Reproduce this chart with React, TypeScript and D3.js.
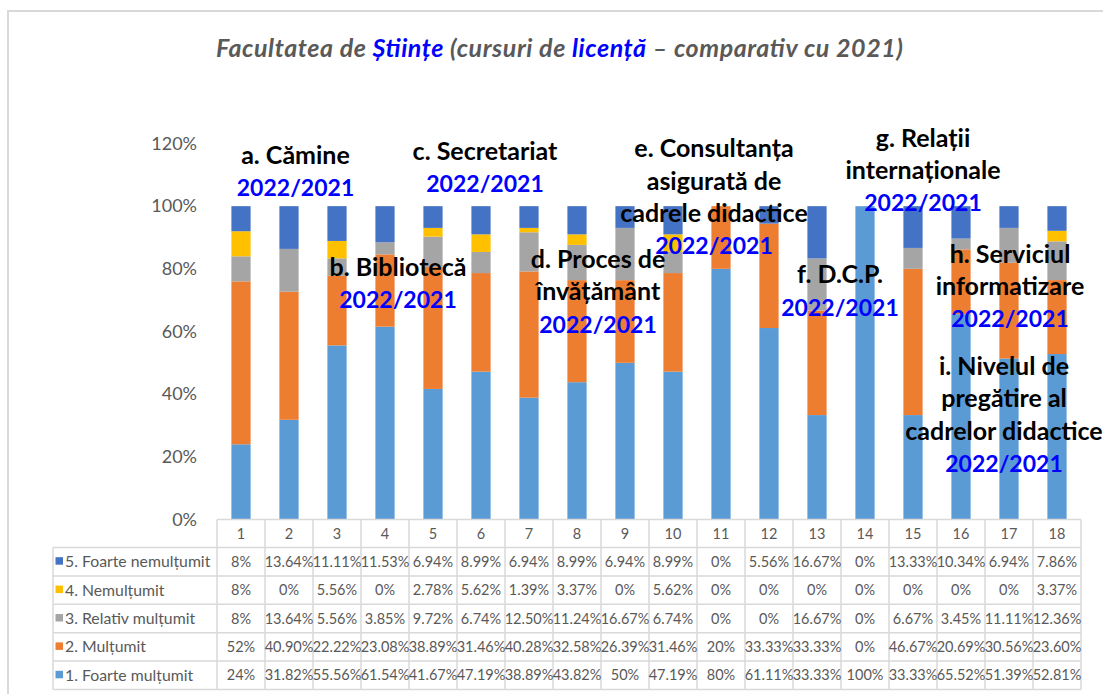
import React from "react";
import * as d3 from "d3";

const categories = ["1","2","3","4","5","6","7","8","9","10","11","12","13","14","15","16","17","18"];
const seriesNames = ["1. Foarte mulțumit","2. Mulțumit","3. Relativ mulțumit","4. Nemulțumit","5. Foarte nemulțumit"];
const foarteMultumit = [24,31.82,55.56,61.54,41.67,47.19,38.89,43.82,50,47.19,80,61.11,33.33,100,33.33,65.52,51.39,52.81];
const multumit = [52,40.90,22.22,23.08,38.89,31.46,40.28,32.58,26.39,31.46,20,33.33,33.33,0,46.67,20.69,30.56,23.60];
const relativMultumit = [8,13.64,5.56,3.85,9.72,6.74,12.50,11.24,16.67,6.74,0,0,16.67,0,6.67,3.45,11.11,12.36];
const nemultumit = [8,0,5.56,0,2.78,5.62,1.39,3.37,0,5.62,0,0,0,0,0,0,0,3.37];
const foarteNemultumit = [8,13.64,11.11,11.53,6.94,8.99,6.94,8.99,6.94,8.99,0,5.56,16.67,0,13.33,10.34,6.94,7.86];
const tableLabels = ["1","2","3","4","5","6","7","8","9","10","11","12","13","14","15","16","17","18"];
const yTicks = [0,0.2,0.4,0.6,0.8,1.0,1.2];

const annotationLines = [
  ["a. Cămine","2022/2021"],
  ["b. Bibliotecă","2022/2021"],
  ["c. Secretariat","2022/2021"],
  ["d. Proces de","învățământ","2022/2021"],
  ["e. Consultanța","asigurată de","cadrele didactice","2022/2021"],
  ["f. D.C.P.","2022/2021"],
  ["g. Relații","internaționale","2022/2021"],
  ["h. Serviciul","informatizare","2022/2021"],
  ["i. Nivelul de","pregătire al","cadrelor didactice","2022/2021"],
];
// layout (center x, first baseline y)
const annotationLayout = [
  [295.5,164],[398,275.7],[485,160],[598,268],[714,157.3],[840,283.3],[923,146.7],[1010,262.7],[1004,375],
];

const colors = ["#5B9BD5","#ED7D31","#A5A5A5","#FFC000","#4472C4"];
const FONT = "Lato, 'Open Sans', sans-serif";
const GRID = "#D9D9D9";
const TXT = "#595959";

export default function App() {
  const W = 1103, H = 694;
  const left = 217, right = 1081;
  const y0 = 519.5, yTop = 143.5;
  const x = d3.scaleBand().domain(categories).range([left, right]).paddingInner(0.6).paddingOuter(0.3);
  const y = d3.scaleLinear().domain([0, 1.2]).range([y0, yTop]);
  const seriesData = [foarteMultumit, multumit, relativMultumit, nemultumit, foarteNemultumit];
  const rows = categories.map((c, i) => {
    const o: any = { cat: c };
    seriesNames.forEach((s, k) => (o[s] = seriesData[k][i] / 100));
    return o;
  });
  const stack = d3.stack().keys(seriesNames)(rows as any);
  const step = x.step();
  const colX = (i: number) => left + i * step;

  const headerTop = 519.5, headerH = 28;
  const rowH = 28.4;
  const labelLeft = 53;
  const tableRows = [4, 3, 2, 1, 0]; // top-to-bottom series index
  const rowTop = (r: number) => headerTop + headerH + r * rowH;
  const tableBottom = rowTop(5);
  const fmt = (v: number) => {
    const s = Number.isInteger(v) ? String(v) : v.toFixed(2);
    return s + "%";
  };

  return (
    <svg width={W} height={H} style={{ position: "absolute", left: 0, top: 0, background: "#fff" }} fontFamily={FONT}>
      <rect x={0} y={0} width={W} height={H} fill="#fff" />
      <rect x={8} y={11} width={1120} height={720} fill="none" stroke={GRID} strokeWidth={2} />
      {/* title */}
      <text x={559.5} y={56.5} textAnchor="middle" fontSize={25} fontWeight="bold" fontStyle="italic" fill={TXT}
        textLength={687} lengthAdjust="spacing">
        <tspan>Facultatea de </tspan>
        <tspan fill="#0000FF">Științe</tspan>
        <tspan> (cursuri de </tspan>
        <tspan fill="#0000FF">licență</tspan>
        <tspan>{"  – comparativ cu 2021)"}</tspan>
      </text>
      {/* y axis labels */}
      {yTicks.map((t) => (
        <text key={t} x={197} y={y(t)} dy="0.35em" textAnchor="end" fontSize={18} fill={TXT}>
          {d3.format(".0%")(t)}
        </text>
      ))}
      {/* bars */}
      {stack.map((layer, k) => (
        <g key={k} fill={colors[k]}>
          {layer.map((d, i) => (
            <rect key={i} x={x(categories[i])} width={x.bandwidth()} y={y(d[1])} height={Math.max(0, y(d[0]) - y(d[1]))} />
          ))}
        </g>
      ))}
      {/* table */}
      <g stroke={GRID} strokeWidth={1.5}>
        <line x1={left} x2={right} y1={headerTop} y2={headerTop} />
        {d3.range(6).map((r) => (
          <line key={r} x1={labelLeft} x2={right} y1={rowTop(r)} y2={rowTop(r)} />
        ))}
        <line x1={labelLeft} x2={labelLeft} y1={rowTop(0)} y2={tableBottom} />
        {d3.range(19).map((i) => (
          <line key={i} x1={colX(i)} x2={colX(i)} y1={headerTop} y2={tableBottom} />
        ))}
      </g>
      {tableLabels.map((c, i) => (
        <text key={c} x={colX(i) + step / 2} y={headerTop + headerH / 2} dy="0.35em" textAnchor="middle" fontSize={14.5} fill={TXT}>
          {c}
        </text>
      ))}
      {tableRows.map((k, r) => (
        <g key={k}>
          <rect x={55.5} y={rowTop(r) + rowH / 2 - 4.5} width={7.5} height={7.5} fill={colors[k]} />
          <text x={65} y={rowTop(r) + rowH / 2} dy="0.35em" fontSize={15.8} fill={TXT}>
            {seriesNames[k]}
          </text>
          {seriesData[k].map((v, i) => (
            <text key={i} x={colX(i) + step / 2} y={rowTop(r) + rowH / 2} dy="0.35em" textAnchor="middle" fontSize={14.5} fill={TXT}>
              {fmt(v)}
            </text>
          ))}
        </g>
      ))}
      {/* annotations */}
      {annotationLines.map((lines, a) => (
        <g key={a}>
          {lines.map((l, j) => {
            const isYear = l === "2022/2021";
            return (
              <text
                key={j}
                x={annotationLayout[a][0]}
                y={annotationLayout[a][1] + j * 32.3}
                textAnchor="middle"
                fontSize={isYear ? 23 : 25}
                fontWeight="bold"
                fill={isYear ? "#0000FF" : "#000"}
              >
                {l}
              </text>
            );
          })}
        </g>
      ))}
    </svg>
  );
}
